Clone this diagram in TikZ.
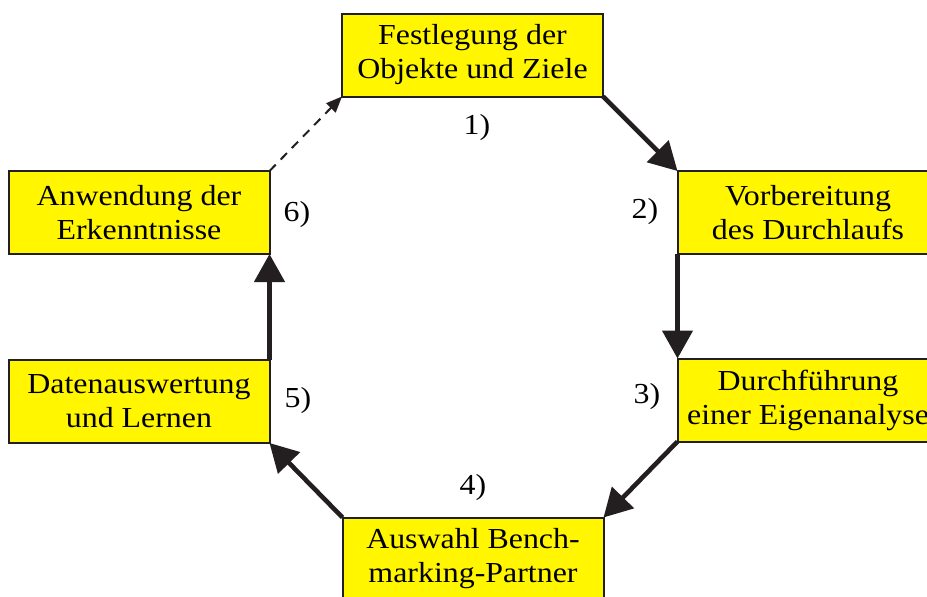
\documentclass[tikz,border=0pt]{standalone}
\usepackage{fontspec}
\setmainfont{Liberation Serif}[FakeStretch=1.1]
\usetikzlibrary{arrows.meta}
\definecolor{boxfill}{RGB}{255,246,0}
\definecolor{ink}{RGB}{35,31,32}
\begin{document}
\begin{tikzpicture}[x=1pt,y=-1pt,
  stage/.style={draw=ink, line width=2pt, fill=boxfill, inner sep=0pt, outer sep=0pt,
    align=center, font=\fontsize{29}{34}\selectfont,
    minimum width=261pt, minimum height=83pt},
  num/.style={font=\fontsize{29}{34}\selectfont, inner sep=0pt},
  flow/.style={draw=ink, line width=4.6pt, -{Triangle[length=28pt,width=30pt]}},
  feedback/.style={draw=ink, line width=2pt, dash pattern=on 9pt off 7pt,
    -{Triangle[length=16pt,width=13pt]}}]
\useasboundingbox (0,0) rectangle (927,597);
\clip (0,0) rectangle (927,597);

% the six stages of the cycle
\node[stage] (b1) at (472.5,55)  {Festlegung der\\Objekte und Ziele};
\node[stage] (b2) at (808,212.5) {Vorbereitung\\des Durchlaufs};
\node[stage] (b3) at (808,400)   {Durchführung\\einer Eigenanalyse};
\node[stage] (b4) at (473,559)   {Auswahl Bench-\\marking-Partner};
\node[stage] (b5) at (139,401.5) {Datenauswertung\\und Lernen};
\node[stage] (b6) at (139,212.5) {Anwendung der\\Erkenntnisse};

% step numbers
\node[num] (n1) at (477,128) {1)};
\node[num] (n2) at (645,212) {2)};
\node[num] (n3) at (647,397) {3)};
\node[num] (n4) at (473,488) {4)};
\node[num] (n5) at (298,401) {5)};
\node[num] (n6) at (297,215) {6)};

% connectors
\draw[flow] (b1.south east) -- (b2.north west);
\draw[flow] (b2.south west) -- (b3.north west);
\draw[flow] (b3.south west) -- (b4.north east);
\draw[flow] (b4.north west) -- (b5.south east);
\draw[flow] (b5.north east) -- (b6.south east);
\draw[feedback] (b6.north east) -- (b1.south west);
\end{tikzpicture}
\end{document}
